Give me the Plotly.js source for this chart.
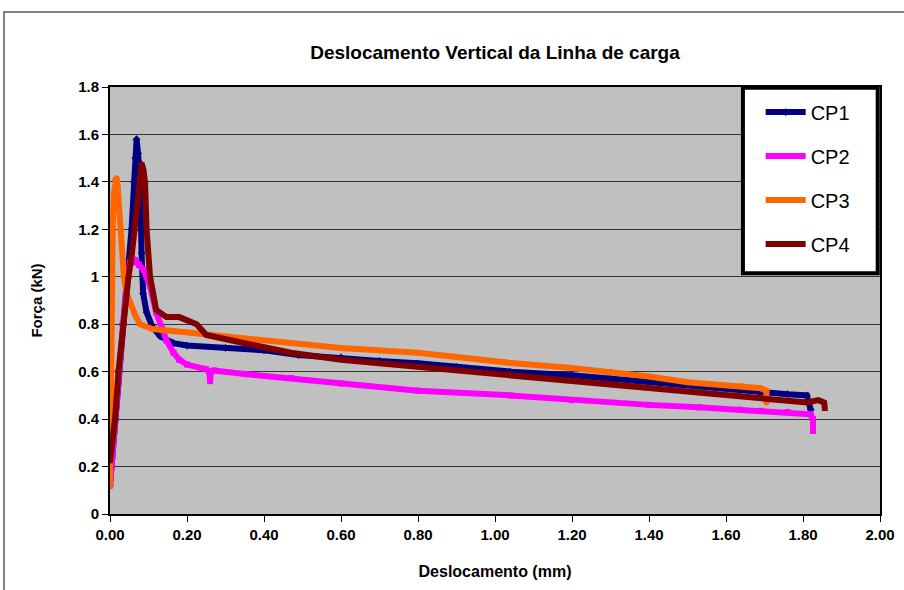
<!DOCTYPE html>
<html>
<head>
<meta charset="utf-8">
<script src="https://cdn.plot.ly/plotly-3.0.1.min.js"></script>
<style>html,body{margin:0;padding:0;background:#fff;}#chart{width:904px;height:590px;}</style>
</head>
<body>
<div id="chart"></div>
<script>
// ---- data ----
const seriesNames = ["CP1", "CP2", "CP3", "CP4"];

const cp1X = [0, 0.004, 0.013, 0.022, 0.033, 0.045, 0.056, 0.062, 0.066, 0.069, 0.073, 0.078, 0.082, 0.086, 0.095, 0.11, 0.13, 0.165, 0.2, 0.3, 0.4, 0.49, 0.6, 0.7, 0.8, 0.9, 1.04, 1.2, 1.3, 1.4, 1.53, 1.636, 1.69, 1.76, 1.81, 1.815, 1.82];
const cp1Y = [0.12, 0.2, 0.4, 0.6, 0.8, 1.0, 1.2, 1.4, 1.5, 1.58, 1.52, 1.4, 1.1, 0.93, 0.85, 0.79, 0.75, 0.72, 0.71, 0.70, 0.69, 0.67, 0.66, 0.645, 0.635, 0.62, 0.60, 0.585, 0.57, 0.555, 0.535, 0.52, 0.51, 0.505, 0.50, 0.47, 0.44];

const cp2X = [0, 0.004, 0.013, 0.022, 0.033, 0.043, 0.052, 0.058, 0.065, 0.075, 0.087, 0.095, 0.104, 0.12, 0.135, 0.147, 0.165, 0.18, 0.2, 0.25, 0.258, 0.26, 0.262, 0.27, 0.35, 0.47, 0.6, 0.8, 1.04, 1.2, 1.4, 1.53, 1.636, 1.69, 1.76, 1.82, 1.826, 1.826];
const cp2Y = [0.12, 0.2, 0.4, 0.6, 0.8, 0.98, 1.06, 1.06, 1.07, 1.05, 1.03, 1.0, 0.96, 0.85, 0.78, 0.73, 0.68, 0.65, 0.63, 0.61, 0.60, 0.56, 0.60, 0.605, 0.59, 0.573, 0.55, 0.52, 0.50, 0.48, 0.46, 0.45, 0.44, 0.435, 0.43, 0.42, 0.40, 0.35];

const cp3X = [0, 0.001, 0.002, 0.003, 0.005, 0.007, 0.01, 0.014, 0.017, 0.02, 0.023, 0.028, 0.036, 0.043, 0.052, 0.065, 0.078, 0.11, 0.17, 0.234, 0.35, 0.47, 0.6, 0.8, 1.05, 1.2, 1.3, 1.4, 1.5, 1.64, 1.69, 1.705, 1.705];
const cp3Y = [0.12, 0.3, 0.6, 1.0, 1.1, 1.2, 1.35, 1.41, 1.415, 1.38, 1.3, 1.2, 1.0, 0.93, 0.89, 0.84, 0.80, 0.78, 0.77, 0.76, 0.74, 0.72, 0.70, 0.68, 0.635, 0.615, 0.60, 0.58, 0.555, 0.54, 0.53, 0.52, 0.47];

const cp4X = [0, 0.004, 0.013, 0.022, 0.034, 0.048, 0.057, 0.065, 0.074, 0.082, 0.087, 0.091, 0.095, 0.104, 0.12, 0.147, 0.18, 0.225, 0.25, 0.35, 0.47, 0.6, 0.8, 1.04, 1.2, 1.35, 1.53, 1.636, 1.69, 1.81, 1.84, 1.855, 1.857];
const cp4Y = [0.22, 0.28, 0.4, 0.6, 0.8, 1.0, 1.1, 1.2, 1.35, 1.48, 1.45, 1.4, 1.2, 1.0, 0.86, 0.83, 0.83, 0.80, 0.755, 0.72, 0.68, 0.65, 0.62, 0.59, 0.56, 0.54, 0.515, 0.50, 0.49, 0.47, 0.48, 0.47, 0.44];

const seriesColors = ["#000080", "#FF00FF", "#FF6600", "#800000"];
const seriesSymbols = ["diamond", "square", "circle", "triangle-up"];

const xTickVals = [0, 0.2, 0.4, 0.6, 0.8, 1.0, 1.2, 1.4, 1.6, 1.8, 2.0];
const yTickVals = [0, 0.2, 0.4, 0.6, 0.8, 1.0, 1.2, 1.4, 1.6, 1.8];

const xs = [cp1X, cp2X, cp3X, cp4X];
const ys = [cp1Y, cp2Y, cp3Y, cp4Y];

const traces = seriesNames.map((n, i) => ({
  type: "scatter",
  mode: "lines+markers",
  name: n,
  legendgroup: n,
  x: xs[i],
  y: ys[i],
  line: {color: seriesColors[i], width: 6},
  marker: {color: seriesColors[i], size: 6, symbol: seriesSymbols[i]}
}));

const F = "Liberation Sans, Arial, sans-serif";

const layout = {
  width: 904,
  height: 590,
  margin: {l: 110, r: 24, t: 87, b: 76},
  paper_bgcolor: "#ffffff",
  plot_bgcolor: "#C0C0C0",
  showlegend: true,
  title: {
    text: "<b>Deslocamento Vertical da Linha de carga</b>",
    font: {family: F, size: 19, color: "#000"},
    x: 0.5, xref: "paper", xanchor: "center",
    y: 0.912, yref: "container", yanchor: "middle"
  },
  xaxis: {
    range: [0, 2],
    tickvals: xTickVals,
    tickformat: ".2f",
    ticks: "outside", ticklen: 6, tickcolor: "#000", tickwidth: 1,
    showgrid: false, zeroline: false,
    showline: true, linecolor: "#000", linewidth: 2, mirror: true,
    tickfont: {family: F, size: 15, color: "#000", weight: "bold"},
    title: {text: "<b>Deslocamento (mm)</b>", font: {family: F, size: 16, color: "#000"}, standoff: 24}
  },
  yaxis: {
    range: [0, 1.8],
    tickvals: yTickVals,
    ticks: "outside", ticklen: 6, tickcolor: "#000", tickwidth: 1,
    showgrid: true, gridcolor: "#333333", gridwidth: 1,
    zeroline: false,
    showline: true, linecolor: "#000", linewidth: 2, mirror: true,
    tickfont: {family: F, size: 15, color: "#000", weight: "bold"},
    title: {text: "<b>Força (kN)</b>", font: {family: F, size: 15, color: "#000"}, standoff: 32}
  },
  legend: {
    x: 0.845, y: 0.987, xanchor: "left", yanchor: "top",
    bgcolor: "rgba(0,0,0,0)", borderwidth: 0,
    font: {family: F, size: 20, color: "#000"},
    tracegroupgap: 15,
    itemwidth: 40
  },
  shapes: [
    {type: "rect", xref: "paper", yref: "paper", x0: -0.1377, x1: 1.3, y0: -0.5, y1: 1.1756,
     line: {color: "#808080", width: 2}, fillcolor: "rgba(0,0,0,0)", layer: "below"},
    {type: "rect", xref: "paper", yref: "paper", x0: 0.822, x1: 0.997, y0: 0.564, y1: 0.998,
     line: {color: "#000", width: 4}, fillcolor: "#ffffff", layer: "above"}
  ]
};

Plotly.newPlot("chart", traces, layout, {displayModeBar: false, staticPlot: true});
</script>
</body>
</html>
